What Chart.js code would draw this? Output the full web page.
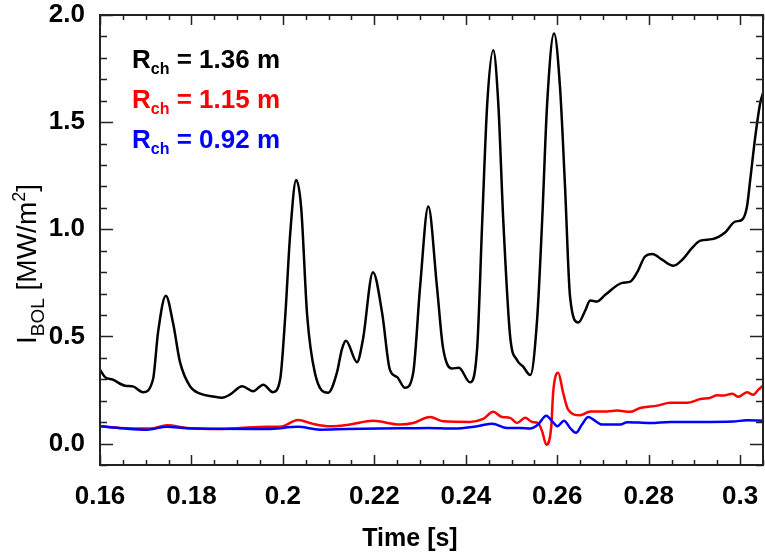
<!DOCTYPE html>
<html>
<head>
<meta charset="utf-8">
<script src="https://cdn.jsdelivr.net/npm/chart.js@4.4.1/dist/chart.umd.min.js"></script>
<style>
  html, body { margin: 0; padding: 0; background: #fff; }
  #wrap { width: 765px; height: 555px; }
</style>
</head>
<body>
<div id="wrap"><canvas id="grafica" width="765" height="555"></canvas></div>
<script>
// señales del bolómetro, tiempo [s] y valor [MW/m2]
const negroT = [0.1600, 0.1611, 0.1628, 0.1655, 0.1672, 0.1694, 0.1716, 0.1727, 0.1744, 0.1760,
  0.1775, 0.1797, 0.1819, 0.1847, 0.1867, 0.1884, 0.1911, 0.1935, 0.1957, 0.1978,
  0.1994, 0.2005, 0.2016, 0.2029, 0.2040, 0.2053, 0.2070, 0.2099, 0.2118, 0.2129,
  0.2138, 0.2162, 0.2175, 0.2197, 0.2217, 0.2234, 0.2250, 0.2267, 0.2285, 0.2300,
  0.2318, 0.2337, 0.2350, 0.2370, 0.2385, 0.2409, 0.2425, 0.2436, 0.2447, 0.2460,
  0.2471, 0.2482, 0.2497, 0.2512, 0.2525, 0.2541, 0.2556, 0.2567, 0.2578, 0.2593,
  0.2606, 0.2617, 0.2628, 0.2646, 0.2661, 0.2672, 0.2687, 0.2705, 0.2742, 0.2760,
  0.2775, 0.2792, 0.2808, 0.2830, 0.2854, 0.2873, 0.2895, 0.2913, 0.2939, 0.2967,
  0.2989, 0.3004, 0.3015, 0.3022, 0.3033, 0.3044, 0.3050]
const negroV = [0.345, 0.31, 0.298, 0.27, 0.267, 0.24, 0.30, 0.52, 0.69, 0.56,
  0.38, 0.267, 0.233, 0.22, 0.214, 0.228, 0.267, 0.244, 0.275, 0.24,
  0.30, 0.59, 0.98, 1.23, 1.10, 0.60, 0.33, 0.237, 0.33, 0.44,
  0.48, 0.38, 0.485, 0.80, 0.61, 0.345, 0.31, 0.26, 0.33, 0.73,
  1.106, 0.73, 0.45, 0.35, 0.354, 0.286, 0.45, 1.04, 1.59, 1.836,
  1.59, 1.04, 0.50, 0.39, 0.36, 0.32, 0.58, 1.04, 1.59, 1.914,
  1.665, 1.20, 0.686, 0.565, 0.62, 0.668, 0.663, 0.694, 0.75, 0.756,
  0.80, 0.873, 0.885, 0.857, 0.83, 0.857, 0.913, 0.947, 0.954, 0.985,
  1.036, 1.044, 1.106, 1.23, 1.43, 1.59, 1.635]

const rojoT = [0.1600, 0.1644, 0.1710, 0.1747, 0.1790, 0.1856, 0.1906, 0.1965, 0.1994, 0.2033,
  0.2066, 0.2103, 0.2147, 0.2197, 0.2256, 0.2285, 0.2322, 0.2350, 0.2409, 0.2438,
  0.2460, 0.2479, 0.2497, 0.2512, 0.2530, 0.2545, 0.2558, 0.2567, 0.2576, 0.2587,
  0.2591, 0.2602, 0.2613, 0.2624, 0.2650, 0.2672, 0.2709, 0.2731, 0.2759, 0.2781,
  0.2819, 0.2847, 0.2884, 0.2913, 0.2934, 0.2950, 0.2963, 0.2983, 0.2996, 0.3015,
  0.3029, 0.3040, 0.3050]
const rojoV = [0.081, 0.073, 0.07, 0.085, 0.073, 0.068, 0.073, 0.078, 0.078, 0.11,
  0.092, 0.081, 0.089, 0.106, 0.089, 0.096, 0.124, 0.104, 0.101, 0.115,
  0.148, 0.124, 0.12, 0.096, 0.12, 0.101, 0.096, 0.057, -0.005, 0.081,
  0.236, 0.33, 0.236, 0.158, 0.132, 0.15, 0.15, 0.154, 0.148, 0.166,
  0.177, 0.19, 0.19, 0.208, 0.213, 0.225, 0.224, 0.233, 0.218, 0.239,
  0.228, 0.252, 0.27]

const azulT = [0.1600, 0.1651, 0.1703, 0.1747, 0.1790, 0.1965, 0.2033, 0.2081, 0.2140, 0.2256,
  0.2318, 0.2372, 0.2425, 0.2458, 0.2490, 0.2519, 0.2541, 0.2558, 0.2576, 0.2589,
  0.2600, 0.2615, 0.2628, 0.2641, 0.2654, 0.2668, 0.2679, 0.2698, 0.2738, 0.2753,
  0.2803, 0.2847, 0.2913, 0.2985, 0.3015, 0.3050]
const azulV = [0.081, 0.071, 0.065, 0.079, 0.071, 0.068, 0.078, 0.065, 0.068, 0.071,
  0.073, 0.07, 0.081, 0.093, 0.073, 0.073, 0.07, 0.089, 0.13, 0.104,
  0.081, 0.107, 0.073, 0.05, 0.089, 0.124, 0.112, 0.089, 0.089, 0.1,
  0.096, 0.101, 0.101, 0.103, 0.109, 0.107]

const etiquetas = ['= 1.36 m', '= 1.15 m', '= 0.92 m']
const colores = ['#000000', '#ff0000', '#0000ff']

const ticksX = [0.16, 0.18, 0.2, 0.22, 0.24, 0.26, 0.28, 0.3]
const ticksY = [0, 0.5, 1, 1.5, 2]

const fuente = '"Liberation Sans", Arial, sans-serif'

function puntos(ts, vs) {
  return ts.map((t, i) => ({ x: t, y: vs[i] }))
}

// marcas hacia dentro en los cuatro lados, marco y textos con subíndices
const marcoPlugin = {
  id: 'marco',
  afterDraw(chart) {
    const ctx = chart.ctx
    const a = chart.chartArea
    const sx = chart.scales.x
    const sy = chart.scales.y
    ctx.save()
    ctx.strokeStyle = '#222'
    ctx.lineWidth = 2
    ctx.strokeRect(a.left, a.top, a.right - a.left, a.bottom - a.top)

    ctx.lineWidth = 1.5
    ctx.beginPath()
    for (let k = 0; k <= 29; k++) {
      const v = 0.16 + k * 0.005
      const px = Math.round(sx.getPixelForValue(v)) + 0.5
      const largo = (k % 4 === 0) ? 10 : 5
      ctx.moveTo(px, a.bottom); ctx.lineTo(px, a.bottom - largo)
      ctx.moveTo(px, a.top); ctx.lineTo(px, a.top + largo)
    }
    for (let k = -1; k <= 20; k++) {
      const v = k * 0.1
      const py = Math.round(sy.getPixelForValue(v)) + 0.5
      const largo = (k % 5 === 0) ? 13 : 7
      ctx.moveTo(a.left, py); ctx.lineTo(a.left + largo, py)
      ctx.moveTo(a.right, py); ctx.lineTo(a.right - largo, py)
    }
    ctx.stroke()

    // leyenda R_ch
    ctx.textBaseline = 'alphabetic'
    ctx.textAlign = 'left'
    etiquetas.forEach((txt, i) => {
      const y = 68 + i * 40
      ctx.fillStyle = colores[i]
      ctx.font = 'bold 26px ' + fuente
      ctx.fillText('R', 132, y)
      const wR = ctx.measureText('R').width
      ctx.font = 'bold 16px ' + fuente
      ctx.fillText('ch', 132 + wR, y + 6)
      const wc = ctx.measureText('ch').width
      ctx.font = 'bold 26px ' + fuente
      ctx.fillText(' ' + txt, 132 + wR + wc, y)
    })

    // título eje x
    ctx.fillStyle = '#000'
    ctx.font = 'bold 25px ' + fuente
    ctx.textAlign = 'center'
    ctx.fillText('Time [s]', 410, 546)

    // título eje y con subíndice y superíndice
    ctx.translate(36, 264)
    ctx.rotate(-Math.PI / 2)
    const partes = [
      { t: 'I', f: '28px', dy: 0 },
      { t: 'BOL', f: '19px', dy: 8 },
      { t: ' [MW/m', f: '28px', dy: 0 },
      { t: '2', f: '18px', dy: -11 },
      { t: ']', f: '28px', dy: 0 }
    ]
    let total = 0
    partes.forEach(p => { ctx.font = p.f + ' ' + fuente; p.w = ctx.measureText(p.t).width; total += p.w })
    let x = -total / 2
    ctx.textAlign = 'left'
    partes.forEach(p => {
      ctx.font = p.f + ' ' + fuente
      ctx.fillText(p.t, x, p.dy)
      x += p.w
    })
    ctx.restore()
  }
}

new Chart(document.getElementById('grafica'), {
  type: 'line',
  data: {
    datasets: [
      { data: puntos(negroT, negroV), borderColor: colores[0], borderWidth: 2.5, order: 2 },
      { data: puntos(rojoT, rojoV), borderColor: colores[1], borderWidth: 2.5, order: 1 },
      { data: puntos(azulT, azulV), borderColor: colores[2], borderWidth: 2.5, order: 0 }
    ]
  },
  options: {
    responsive: false,
    animation: false,
    layout: { padding: { top: 15, right: 2, left: 0, bottom: 0 } },
    elements: {
      point: { radius: 0 },
      line: { cubicInterpolationMode: 'monotone', fill: false }
    },
    plugins: {
      legend: { display: false },
      tooltip: { enabled: false }
    },
    scales: {
      x: {
        type: 'linear',
        min: 0.16,
        max: 0.305,
        grid: { display: false },
        border: { display: false },
        afterBuildTicks: (s) => { s.ticks = ticksX.map(v => ({ value: v })) },
        afterFit: (s) => { s.height = 90; s.paddingLeft = 0; s.paddingRight = 0 },
        ticks: {
          padding: 8,
          maxRotation: 0,
          color: '#000',
          font: { family: fuente, size: 26, weight: 'bold' },
          callback: (v) => String(+v.toFixed(2))
        }
      },
      y: {
        min: -0.1,
        max: 2.0,
        grid: { display: false },
        border: { display: false },
        afterBuildTicks: (s) => { s.ticks = ticksY.map(v => ({ value: v })) },
        afterFit: (s) => { s.width = 100; s.paddingTop = 0; s.paddingBottom = 0 },
        ticks: {
          padding: 7,
          color: '#000',
          font: { family: fuente, size: 26, weight: 'bold' },
          callback: (v) => v.toFixed(1)
        }
      }
    }
  },
  plugins: [marcoPlugin]
})
</script>
</body>
</html>
